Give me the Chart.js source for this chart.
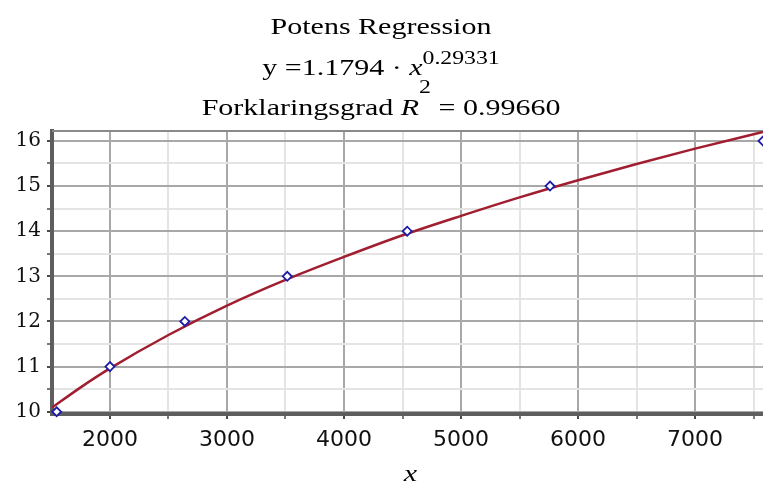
<!DOCTYPE html>
<html>
<head>
<meta charset="utf-8">
<script src="https://cdn.jsdelivr.net/npm/chart.js@4/dist/chart.umd.min.js"></script>
<style>
  html, body { margin: 0; padding: 0; background: #fff; overflow: hidden; }
  #myChart { display: block; }
</style>
</head>
<body>
<canvas id="myChart" width="763" height="481"></canvas>
<script>
// data points
var punktX = [1545, 2000, 2640, 3515, 4540, 5760, 7580]
var punktY = [10, 11, 12, 13, 14, 15, 16]

// regression curve
var kurveX = [1505, 1750, 2000, 2500, 3000, 3500, 4000, 4500, 5000, 5500, 6000, 6500, 7000, 7580]
var kurveY = [10.09, 10.54, 10.96, 11.70, 12.35, 12.92, 13.43, 13.91, 14.34, 14.75, 15.13, 15.49, 15.83, 16.20]

// tick labels
var xTicks = [2000, 3000, 4000, 5000, 6000, 7000]
var yTicks = [10, 11, 12, 13, 14, 15, 16]

var xMin = 1505, xMax = 7580
var yMin = 9.95, yMax = 16.22

var serif = '"Liberation Serif", "Times New Roman", serif'

// major + minor grid positions (minor halfway between majors)
function medMinor(major, step, lo, hi) {
  var all = []
  var first = major[0] - step / 2
  for (var v = first; v <= hi + 1e-9; v += step / 2) {
    if (v >= lo - 1e-9) all.push(Math.round(v * 100) / 100)
  }
  return all
}

function erMajor(liste, v) {
  return liste.some(function (m) { return Math.abs(m - v) < 1e-6 })
}

// draws a line of text made of runs, stretched horizontally like the original
function tegnLinje(c, runs, cx, y, sx) {
  var bredde = 0
  runs.forEach(function (r) {
    c.font = r.font
    r.w = c.measureText(r.text).width
    bredde += r.w
  })
  c.save()
  c.translate(cx - bredde * sx / 2, y)
  c.scale(sx, 1)
  var x = 0
  runs.forEach(function (r) {
    c.font = r.font
    c.fillText(r.text, x, r.dy || 0)
    x += r.w
  })
  c.restore()
}

const tittelPlugin = {
  id: 'tittel',
  afterDraw(chart) {
    const c = chart.ctx
    const a = chart.chartArea
    c.save()
    c.fillStyle = '#000'
    c.textBaseline = 'alphabetic'
    c.textAlign = 'left'
    var cx = 381, sx = 1.25
    tegnLinje(c, [{ text: 'Potens Regression', font: '24px ' + serif }], cx, 34, sx)
    tegnLinje(c, [
      { text: 'y =1.1794 \u00b7 ', font: '24px ' + serif },
      { text: 'x', font: 'italic 24px ' + serif },
      { text: '0.29331', font: '19px ' + serif, dy: -11 }
    ], cx, 75, sx)
    tegnLinje(c, [
      { text: 'Forklaringsgrad ', font: '24px ' + serif },
      { text: 'R', font: 'italic 24px ' + serif },
      { text: '2', font: '19px ' + serif, dy: -22 },
      { text: ' = 0.99660', font: '24px ' + serif }
    ], cx, 115, sx)
    // axis label
    tegnLinje(c, [{ text: 'x', font: 'italic 24px ' + serif }], (a.left + a.right) / 2 + 3, 481, sx)
    c.restore()
  },
  beforeDatasetsDraw(chart) {
    const c = chart.ctx
    const a = chart.chartArea
    c.save()
    c.strokeStyle = '#8a8a8a'
    c.lineWidth = 2
    c.beginPath()
    c.moveTo(a.left, a.top)
    c.lineTo(a.right, a.top)
    c.stroke()
    c.restore()
  }
}

const ctx = document.getElementById('myChart').getContext('2d')

let grafico1 = new Chart(ctx, {
  type: 'scatter',
  data: {
    datasets: [
      {
        label: 'punkter',
        data: punktX.map(function (x, i) { return { x: x, y: punktY[i] } }),
        pointStyle: 'rectRot',
        pointRadius: 4.5,
        pointBorderWidth: 1.8,
        borderColor: '#1c1ca8',
        backgroundColor: '#ffffff',
        clip: false,
        order: 0
      },
      {
        label: 'kurve',
        type: 'line',
        data: kurveX.map(function (x, i) { return { x: x, y: kurveY[i] } }),
        showLine: true,
        borderColor: '#a01e30',
        borderWidth: 2.5,
        pointRadius: 0,
        cubicInterpolationMode: 'monotone',
        fill: false,
        order: 1
      }
    ]
  },
  options: {
    responsive: false,
    animation: false,
    layout: { autoPadding: false, padding: { top: 131, right: 0, left: 0, bottom: 0 } },
    plugins: {
      legend: { display: false },
      tooltip: { enabled: false },
      title: { display: false }
    },
    scales: {
      x: {
        type: 'linear',
        min: xMin,
        max: xMax,
        afterBuildTicks: function (scale) {
          scale.ticks = medMinor(xTicks, 1000, xMin, xMax).map(function (v) { return { value: v } })
        },
        afterFit: function (scale) { scale.height = 67 },
        ticks: {
          autoSkip: false,
          maxRotation: 0,
          padding: 8,
          color: '#111',
          font: { family: '"DejaVu Sans", sans-serif', size: 22 },
          callback: function (v) { return erMajor(xTicks, v) ? String(v) : '' }
        },
        grid: {
          color: function (c) { return c.tick && erMajor(xTicks, c.tick.value) ? '#a8a8a8' : '#e4e4e4' },
          lineWidth: 2,
          tickLength: 5,
          tickColor: '#4a4a4a',
          tickWidth: function (c) { return c.tick && erMajor(xTicks, c.tick.value) ? 2 : 1.5 }
        },
        border: { display: true, color: '#5e5e5e', width: 4 }
      },
      y: {
        type: 'linear',
        min: yMin,
        max: yMax,
        afterBuildTicks: function (scale) {
          scale.ticks = medMinor(yTicks, 1, yMin, yMax).map(function (v) { return { value: v } })
        },
        afterFit: function (scale) { scale.width = 52 },
        ticks: {
          autoSkip: false,
          padding: 6,
          color: '#111',
          font: { family: '"DejaVu Serif", serif', size: 20 },
          callback: function (v) { return erMajor(yTicks, v) ? String(v) : '' }
        },
        grid: {
          color: function (c) { return c.tick && erMajor(yTicks, c.tick.value) ? '#a8a8a8' : '#e4e4e4' },
          lineWidth: 2,
          tickLength: 5,
          tickColor: '#4a4a4a',
          tickWidth: function (c) { return c.tick && erMajor(yTicks, c.tick.value) ? 2 : 1.5 }
        },
        border: { display: true, color: '#5e5e5e', width: 4 }
      }
    }
  },
  plugins: [tittelPlugin]
})
</script>
</body>
</html>
